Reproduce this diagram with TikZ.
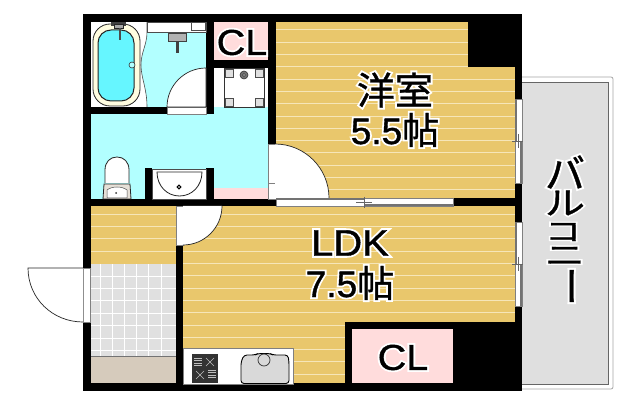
\documentclass[tikz,border=0pt]{standalone}
\usepackage{fontspec}
\setmainfont{Liberation Sans}
\newfontfamily\latbold[FakeBold=1]{Liberation Sans}
\newfontfamily\lathalo[FakeBold=11]{Liberation Sans}
\newfontfamily\jpbold[FakeBold=1]{Noto Sans CJK JP}
\newfontfamily\jphalo[FakeBold=11]{Noto Sans CJK JP}
\newcommand{\jpfont}{}
\newcommand{\halolabel}[1]{\leavevmode\rlap{\color{white}\let\jpfont\jphalo\lathalo #1}{\color{black}\let\jpfont\jpbold\latbold #1}}
\definecolor{woodfloor}{HTML}{E9C76C}
\definecolor{woodline}{HTML}{F6E6B8}
\definecolor{wethall}{HTML}{B2FFFF}
\definecolor{tubwater}{HTML}{66F6FF}
\definecolor{closetpink}{HTML}{FFDCDC}
\definecolor{tilefloor}{HTML}{E0E0E0}
\definecolor{stonefloor}{HTML}{D6CBBC}
\definecolor{balconyfloor}{HTML}{DFDFDF}
\tikzset{
  wall/.style={fill=black},
  doorleaf/.style={draw=black!85,fill=white,line width=0.7pt},
  opening/.style={draw=black!50,fill=white,line width=0.5pt},
  fixture/.style={draw=black!85,fill=white,line width=0.8pt},
  roomlabel/.style={inner sep=0pt,font=\fontsize{37}{37}\selectfont},
  closetlabel/.style={inner sep=0pt,font=\fontsize{36}{36}\selectfont,xscale=1.1},
  kanalabel/.style={inner sep=0pt,font=\fontsize{40}{40}\selectfont}
}
\begin{document}
\begin{tikzpicture}[x=1pt,y=-1pt]
    \useasboundingbox (0,0) rectangle (640,406);
    \fill[white] (0,0) rectangle (640,406);

    % Draw the balcony
    \draw[black!35,fill=white,rounded corners=2pt,line width=0.8pt] (515,77) rectangle (613,389);
    \draw[black!60,fill=balconyfloor,line width=0.7pt] (515,82) rectangle (608,384);

    % Draw the floors
    \fill[woodfloor] (275,22) rectangle (515,199);
    \fill[woodfloor] (183,206) rectangle (515,383);
    \fill[woodfloor] (91,206) rectangle (176,264);
    \fill[wethall] (91,107) rectangle (268,199);
    \fill[white] (91,22) rectangle (147,107);
    \fill[wethall] (147,32) .. controls (147,45) and (141,52) .. (141,65) .. controls (141,78) and (147,88) .. (147,107) -- (206,107) -- (206,32) -- cycle;
    \fill[closetpink] (214,22) rectangle (268,60);
    \fill[closetpink] (214,188) rectangle (268,199);
    \fill[tilefloor] (91,264) rectangle (176,356);
    \fill[stonefloor] (91,356) rectangle (176,383);
    \draw[black!55,line width=0.6pt] (91,356) -- (176,356);
    \draw[black!70,line width=0.6pt] (147,22) -- (147,32) .. controls (147,45) and (141,52) .. (141,65) .. controls (141,78) and (147,88) .. (147,107);

    % Floor boards and tiles
    \foreach \n in {0,...,13}
        \draw[woodline,line width=1pt] (275,30+12.3*\n) -- (515,30+12.3*\n);
    \foreach \n in {0,...,13}
        \draw[woodline,line width=1pt] (183,214.3+12.3*\n) -- (515,214.3+12.3*\n);
    \foreach \n in {0,...,3}
        \draw[woodline,line width=1pt] (91,214.3+12.3*\n) -- (176,214.3+12.3*\n);
    \foreach \n in {0,...,6}
        \draw[white,line width=1pt] (91,276+12.4*\n) -- (176,276+12.4*\n);
    \foreach \n in {0,...,5}
        \draw[white,line width=1pt] (100+12.2*\n,264) -- (100+12.2*\n,356);

    % Draw the walls
    \fill[wall] (83,14) rectangle (522,22);
    \fill[wall] (83,14) rectangle (91,391);
    \fill[wall] (515,14) rectangle (522,391);
    \fill[wall] (83,383) rectangle (522,391);
    \fill[wall] (468,14) rectangle (522,67);
    \fill[wall] (91,107) rectangle (167,114);
    \fill[wall] (206,22) rectangle (214,114);
    \fill[wall] (214,60) rectangle (276,68);
    \fill[wall] (268,22) rectangle (276,144);
    \fill[wall] (83,199) rectangle (276,206);
    \fill[wall] (453,198) rectangle (515,206);
    \fill[wall] (176,245) rectangle (183,391);
    \fill[wall] (145,168) rectangle (152,199);
    \fill[wall] (206,168) rectangle (214,199);
    \fill[wall] (345,322) rectangle (522,391);
    \fill[closetpink] (352,329) rectangle (453,383);

    % Openings in the walls
    \draw[opening] (167,107) rectangle (206,114);
    \draw[opening] (268,144) rectangle (276,199);
    \draw[black!50] (268,183) -- (276,183);
    \draw[opening] (176,206) rectangle (183,245);
    \draw[opening] (83,268) rectangle (90.5,322);

    % Sliding door and windows
    \draw[opening,line width=0.6pt] (276,198) rectangle (453,206);
    \draw[black!55,line width=1.4pt] (276,199) -- (364,199);
    \draw[black!55,line width=1.4pt] (364,205) -- (453,205);
    \draw[black!60] (364,197) -- (364,208);
    \draw[black!60] (356,202) -- (372,202);
    \foreach \wy in {99,222} {
        \draw[opening,line width=0.6pt] (515,\wy) rectangle (522,\wy+84);
        \draw[black!55,line width=1.4pt] (516,\wy) -- (516,\wy+42);
        \draw[black!55,line width=1.4pt] (521,\wy+42) -- (521,\wy+84);
        \draw[black!60] (512,\wy+42) -- (523,\wy+42);
        \draw[black!60] (518.5,\wy+35) -- (518.5,\wy+49);
    }

    % Draw the door leaves
    \draw[doorleaf] (167,107) .. controls (167,85.5) and (184.5,68) .. (206,68) -- (206,107) -- cycle;
    \fill[white] (329,198) .. controls (329,168.2) and (304.8,144) .. (275,144) -- (275,198) -- cycle;
    \draw[black!85,line width=0.7pt] (329,198) .. controls (329,168.2) and (304.8,144) .. (275,144);
    \fill[white] (222,206) .. controls (222,227.5) and (204.5,245) .. (183,245) -- (183,206) -- cycle;
    \draw[black!85,line width=0.7pt] (222,206) .. controls (222,227.5) and (204.5,245) .. (183,245);
    \draw[doorleaf] (83,268) -- (28,268) .. controls (28,298.4) and (52.6,322) .. (83,322);

    % Bathtub and shower
    \draw[fixture,fill=yellow!12,rounded corners=17pt] (93,24) rectangle (140,106);
    \draw[fixture,fill=tubwater,rounded corners=13pt,line width=1pt] (98,30) rectangle (134,101);
    \draw[black!80,fill=wethall,line width=0.6pt] (132,65) circle (3);
    \fill[black!75] (111,22) rectangle (126,26);
    \draw[fixture,fill=black!35,line width=0.4pt] (114,24) rectangle (123,28);
    \fill[black!70] (118.5,28) rectangle (120.5,40);
    \draw[black!70,fill=white,line width=0.5pt] (147,22) rectangle (206,32);
    \draw[black!70,fill=white,line width=0.5pt] (191,22) rectangle (205,30);
    \draw[black!75,fill=black!30,line width=0.8pt] (168,33) rectangle (186,41);
    \fill[black!75] (175.5,41) rectangle (178.5,53);

    % Laundry pan
    \draw[black!80,fill=white,line width=0.9pt] (224,68) rectangle (264,107);
    \foreach \px/\py in {225/69,255/69,225/98,255/98}
        \draw[black!70,fill=black!12,line width=0.5pt] (\px,\py) rectangle (\px+8,\py+8);
    \draw[black!80,fill=black!55,line width=0.6pt] (244,75) circle (4);
    \draw[black!80,fill=black!20,line width=0.4pt] (244,75) circle (1.5);

    % Wash basin
    \draw[black!70,fill=white,line width=0.5pt] (152,169) rectangle (206,199);
    \draw[fixture] (157,172) -- (202,172) .. controls (202,186) and (192,196) .. (179.5,196) .. controls (167,196) and (157,186) .. (157,172) -- cycle;
    \draw[black,fill=white,line width=1pt] (179,187) circle (1.8);

    % Toilet
    \draw[fixture] (105,183) -- (105,170) .. controls (105,162) and (110,157) .. (117,157) .. controls (124,157) and (129,162) .. (129,170) -- (129,183);
    \draw[black!85,fill=stonefloor!60,line width=0.8pt] (104,184) -- (130,184) -- (131,199) -- (103,199) -- cycle;
    \draw[black!70,fill=white,line width=0.5pt] (107,190) .. controls (112,186) and (122,186) .. (127,190) -- (127,198) -- (107,198) -- cycle;
    \fill[black!80] (116,193) circle (1);

    % Kitchen counter
    \draw[black!50,fill=white,line width=0.6pt] (183,348) rectangle (293,384.5);
    \fill[black!80] (192,354) rectangle (218,383);
    \foreach \n in {0,...,3} {
        \draw[black!25,line width=0.7pt] (194,358+2.5*\n) -- (202,358+2.5*\n);
        \draw[black!25,line width=0.7pt] (208,370+2.5*\n) -- (216,370+2.5*\n);
    }
    \draw[black!25,line width=0.6pt] (206,358) -- (214,366) (214,358) -- (206,366);
    \draw[black!25,line width=0.6pt] (196,371) -- (204,379) (204,371) -- (196,379);
    \draw[black,fill=black!15,line width=0.9pt,rounded corners=3pt] (241,362) -- (244,355) -- (255,355) -- (258,353.5) -- (270,353.5) -- (273,355) -- (288,355) -- (289,362) -- (289,383.5) -- (241,383.5) -- cycle;
    \draw[black!80,fill=black!15,line width=0.7pt] (264,360) circle (6);

    % Room labels
    \node[roomlabel,font=\fontsize{38}{38}\selectfont] (yoshitsu) at (395,90) {\halolabel{{\jpfont 洋室}}};
    \node[roomlabel] (yoshitsusize) at (395,130) {\halolabel{5.5{\jpfont 帖}}};
    \node[roomlabel,xscale=1.08] (ldk) at (350,243) {\halolabel{LDK}};
    \node[roomlabel] (ldksize) at (350,283) {\halolabel{7.5{\jpfont 帖}}};
    \node[closetlabel] (upperCL) at (242,42.5) {\halolabel{CL}};
    \node[closetlabel] (lowerCL) at (403,357.5) {\halolabel{CL}};

    % Balcony label, stacked by hand
    \node[kanalabel] (kanaBa) at (565,172) {\halolabel{{\jpfont バ}}};
    \node[kanalabel,yscale=0.8] (kanaRu) at (565,203) {\halolabel{{\jpfont ル}}};
    \node[kanalabel,xscale=0.9,yscale=0.65] (kanaKo) at (563,232) {\halolabel{{\jpfont コ}}};
    \node[kanalabel,yscale=0.7] (kanaNi) at (565,256) {\halolabel{{\jpfont ニ}}};
    \node[kanalabel,rotate=-90] (kanaBar) at (565,286) {\halolabel{{\jpfont ー}}};
\end{tikzpicture}
\end{document}
